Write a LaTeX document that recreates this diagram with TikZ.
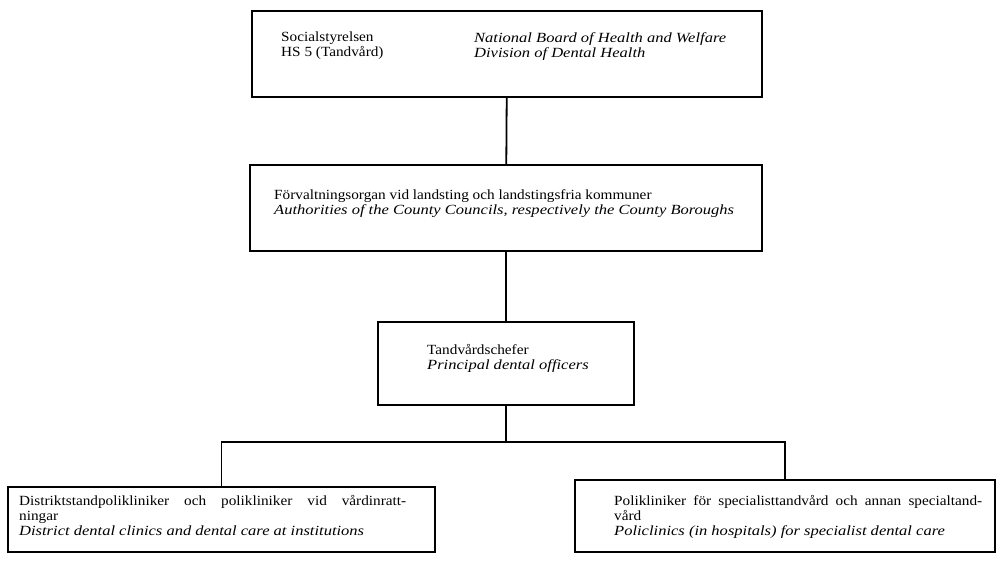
\documentclass[tikz,border=0pt]{standalone}
\usepackage{fontspec}
\setmainfont[FakeStretch=1.09, ItalicFeatures={FakeStretch=1.18}]{Liberation Serif}
\usetikzlibrary{positioning}

\begin{document}
\begin{tikzpicture}[x=1pt, y=-1pt,
  box/.style = {draw, rectangle, line width=2pt, inner sep=0pt},
  txt/.style = {inner sep=0pt, align=left, font=\fontsize{14}{15}\selectfont},
  link/.style = {line width=1.8pt}]
\useasboundingbox (0,0) rectangle (997,561);
\node[box, minimum width=510pt, minimum height=86pt] (sos) at (507,54) {};
\node[box, minimum width=512pt, minimum height=86pt] (lands) at (506,208) {};
\node[box, minimum width=256pt, minimum height=83pt] (chef) at (506,363.5) {};
\node[box, minimum width=427pt, minimum height=65pt] (distr) at (221.5,519.5) {};
\node[box, minimum width=420pt, minimum height=72pt] (spec) at (785,516) {};
\node[txt, anchor=north west] (sos-sv) [below right=22pt and 30pt of sos.north west] {Socialstyrelsen\\HS 5 (Tandvård)};
\node[txt, anchor=north west] (sos-en) [below right=22pt and 223pt of sos.north west] {\itshape National Board of Health and Welfare\\\itshape Division of Dental Health};
\node[txt, anchor=north west] (lands-t) [below right=25pt and 25pt of lands.north west] {Förvaltningsorgan vid landsting och landstingsfria kommuner\\\itshape Authorities of the County Councils, respectively the County Boroughs};
\node[txt, anchor=north west] (chef-t) [below right=23pt and 50pt of chef.north west] {Tandvårdschefer\\\itshape Principal dental officers};
\node[txt, anchor=north west] (distr-t) [below right=9pt and 12pt of distr.north west] {\makebox[387pt][s]{Distriktstandpolikliniker och polikliniker vid vårdinratt-}\\ningar\\\itshape District dental clinics and dental care at institutions};
\node[txt, anchor=north west] (spec-t) [below right=16pt and 40pt of spec.north west] {\makebox[368pt][s]{Polikliniker för specialisttandvård och annan specialtand-}\\vård\\\itshape Policlinics (in hospitals) for specialist dental care};
\coordinate (bus) at (506,442);
\draw[link] (sos) -- (lands);
\draw[link] (lands) -- (chef);
\draw[link] (chef) -- (bus);
\draw[link] (bus) -| (distr);
\draw[link] (bus) -| (spec);
\end{tikzpicture}
\end{document}
